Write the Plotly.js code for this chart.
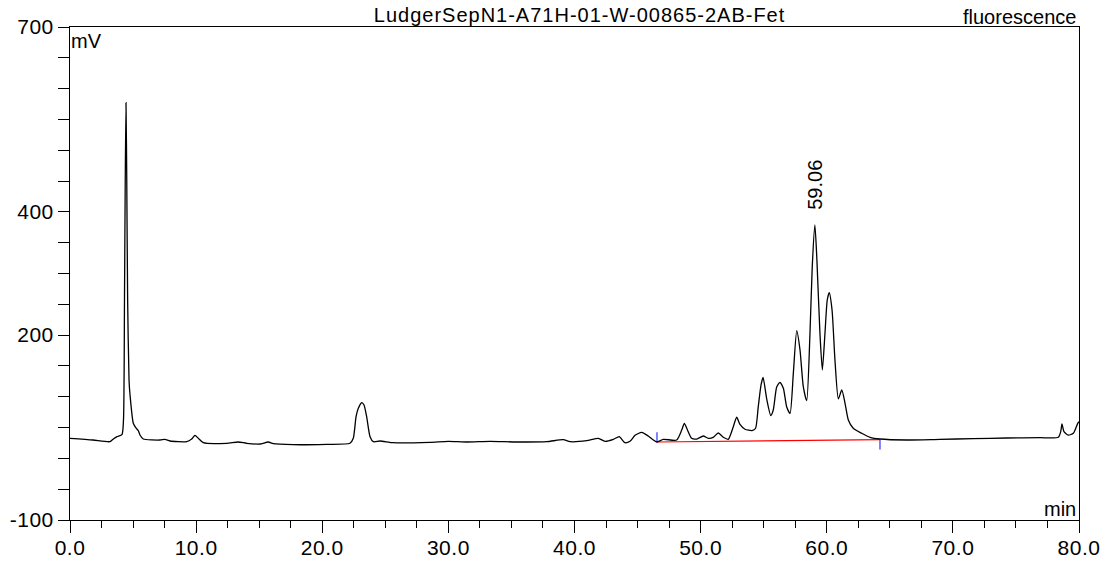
<!DOCTYPE html>
<html>
<head>
<meta charset="utf-8">
<script src="https://cdn.plot.ly/plotly-3.0.1.min.js"></script>
<style>
  html, body { margin: 0; padding: 0; background: #fff; }
  #chart { width: 1104px; height: 561px; }
  #chart .gtitle { letter-spacing: 1px; }
  #chart .xtick text, #chart .ytick text { letter-spacing: 0.5px; }
</style>
</head>
<body>
<div id="chart"></div>
<script>
// Retention time (min) and detector signal (mV)
const timeMin = [
  0.00, 1.82, 3.17, 3.41, 3.73, 4.12, 4.24, 4.32, 4.38, 4.44, 4.50, 4.57, 4.68, 4.76, 5.02, 5.23, 5.42, 5.55, 5.81,
  7.14, 7.53, 7.93, 9.25, 9.65, 9.91, 10.17, 10.57, 12.42, 13.34, 14.01, 15.06, 15.72, 16.12, 17.70, 20.35,
  22.20, 22.46, 22.68, 22.86, 23.13, 23.31, 23.52, 23.79, 24.05, 24.58, 25.63,
  28.54, 29.99, 31.45, 33.30, 35.42, 37.80, 39.11, 39.64, 40.97, 41.89, 42.42, 43.08, 43.55, 44.00, 44.40,
  44.80, 45.33, 45.85, 46.52, 47.04, 48.10, 48.50, 48.71, 48.94, 49.29, 49.69, 50.21, 50.61, 51.00, 51.40,
  51.80, 52.19, 52.59, 52.86, 53.12, 53.52, 54.07, 54.35, 54.57, 54.79, 54.95, 55.24, 55.56, 55.76, 56.03,
  56.29, 56.56, 56.82, 57.09, 57.35, 57.62, 57.88, 58.14, 58.41, 58.67, 58.85, 59.06, 59.22, 59.46, 59.65,
  59.86, 60.04, 60.20, 60.42, 60.65, 60.92, 61.19, 61.45, 61.71, 62.10, 62.77, 63.43, 64.22, 66.34, 68.98,
  71.62, 74.27, 76.91, 78.36, 78.55, 78.65, 78.81, 79.15, 79.55, 79.90, 80.00
];
const signalMV = [
  32.6, 29.8, 27.1, 30.9, 35.2, 38.7, 62.3, 257.0, 451.7, 577.2, 451.7, 257.0, 127.2, 102.8, 56.9, 49.3, 44.9, 37.9, 31.4,
  29.8, 30.9, 28.2, 27.1, 31.4, 37.4, 32.6, 25.4, 24.5, 26.6, 24.5, 23.3, 26.6, 23.8, 22.2, 22.8,
  24.5, 32.6, 67.6, 81.2, 90.3, 86.6, 67.6, 35.2, 27.1, 28.2, 25.4,
  26.1, 27.7, 26.6, 27.7, 26.6, 27.1, 30.3, 27.1, 28.7, 32.6, 27.7, 30.9, 35.2, 25.4, 27.7,
  37.4, 42.3, 36.3, 26.6, 30.9, 29.8, 46.0, 56.9, 46.9, 32.6, 31.4, 36.3, 32.6, 34.2, 41.2,
  34.2, 30.9, 51.4, 66.7, 55.0, 47.2, 45.2, 48.5, 83.9, 119.1, 131.2, 96.4, 69.6, 78.5, 115.8,
  123.4, 113.7, 83.9, 73.1, 138.0, 207.2, 175.9, 116.3, 93.6, 203.0, 311.0, 378.7, 321.9, 203.0, 143.4,
  203.0, 257.0, 268.8, 240.8, 159.6, 96.4, 111.0, 89.4, 62.3, 48.8, 40.7, 34.2, 31.4, 29.8, 30.9,
  31.9, 33.1, 33.6, 34.2, 43.3, 55.8, 43.3, 37.9, 40.7, 56.9, 59.5
];

// Integration baseline and its start / end markers
const baseTime = [46.54, 64.22];
const baseSignal = [26.6, 30.5];
const startMarkTime = [46.54, 46.54];
const startMarkSignal = [42.3, 26.1];
const endMarkTime = [64.22, 64.22];
const endMarkSignal = [30.5, 14.3];

// Labelled peak
const peakLabelTime = [59.06];
const peakLabelSignal = [400];
const peakLabelText = ['59.06'];

// Tick labels
const xTickVals = [0, 10, 20, 30, 40, 50, 60, 70, 80];
const xTickText = ['0.0', '10.0', '20.0', '30.0', '40.0', '50.0', '60.0', '70.0', '80.0'];
const yTickVals = [-100, 200, 400, 700];
const yTickText = ['-100', '200', '400', '700'];

const chartTitle = 'LudgerSepN1-A71H-01-W-00865-2AB-Fet';
const detectorLabel = 'fluorescence';
const yUnit = 'mV';
const xUnit = 'min';

const FONT = 'Liberation Sans, Arial, sans-serif';

const traces = [
  {
    x: baseTime, y: baseSignal, type: 'scatter', mode: 'lines',
    line: { color: '#ff0000', width: 1.2 }, hoverinfo: 'skip', showlegend: false
  },
  {
    x: startMarkTime, y: startMarkSignal, type: 'scatter', mode: 'lines',
    line: { color: '#5a5aff', width: 1.5 }, hoverinfo: 'skip', showlegend: false
  },
  {
    x: endMarkTime, y: endMarkSignal, type: 'scatter', mode: 'lines',
    line: { color: '#5a5aff', width: 1.5 }, hoverinfo: 'skip', showlegend: false
  },
  {
    x: timeMin, y: signalMV, type: 'scatter', mode: 'lines',
    line: { color: '#000000', width: 1.3, shape: 'spline', smoothing: 0.6 },
    showlegend: false
  }
];

const annotations = [
  {
    text: detectorLabel, xref: 'paper', yref: 'paper', x: 1, y: 1,
    xanchor: 'right', yanchor: 'bottom', xshift: -1, yshift: -3, showarrow: false,
    font: { family: FONT, size: 20, color: '#000' }
  },
  {
    text: yUnit, xref: 'paper', yref: 'paper', x: 0, y: 1,
    xanchor: 'left', yanchor: 'top', xshift: -1, yshift: -1, showarrow: false,
    font: { family: FONT, size: 20, color: '#000' }
  },
  {
    text: xUnit, xref: 'paper', yref: 'paper', x: 1, y: 0,
    xanchor: 'right', yanchor: 'bottom', xshift: -1, yshift: -2, showarrow: false,
    font: { family: FONT, size: 20, color: '#000' }
  }
];
peakLabelText.forEach((t, i) => {
  annotations.push({
    text: t, x: peakLabelTime[i], y: peakLabelSignal[i], xref: 'x', yref: 'y',
    textangle: -90, xanchor: 'center', yanchor: 'bottom', showarrow: false,
    font: { family: FONT, size: 20, color: '#000' }
  });
});

const axisCommon = {
  showgrid: false, zeroline: false, showline: true, mirror: true,
  linecolor: '#000', linewidth: 1, ticks: 'outside', tickcolor: '#000', tickwidth: 1,
  tickfont: { family: FONT, size: 21, color: '#000' }, fixedrange: true
};

const layout = {
  width: 1104, height: 561,
  margin: { l: 70, r: 25, t: 27, b: 41, pad: 0 },
  paper_bgcolor: '#fff', plot_bgcolor: '#fff',
  title: {
    text: chartTitle, xref: 'paper', x: 0.505, xanchor: 'center',
    yref: 'container', y: 1 - 15 / 561, yanchor: 'middle',
    font: { family: FONT, size: 20, color: '#000' }
  },
  xaxis: Object.assign({}, axisCommon, {
    range: [0, 80], tickmode: 'array', tickvals: xTickVals, ticktext: xTickText,
    ticklen: 12, ticklabelstandoff: -3,
    minor: { tick0: 0, dtick: 2.5, ticks: 'outside', ticklen: 7, tickcolor: '#000', tickwidth: 1, showgrid: false }
  }),
  yaxis: Object.assign({}, axisCommon, {
    range: [-100, 700], tickmode: 'array', tickvals: yTickVals, ticktext: yTickText,
    ticklen: 11,
    minor: { tick0: 0, dtick: 50, ticks: 'outside', ticklen: 11, tickcolor: '#000', tickwidth: 1, showgrid: false }
  }),
  annotations: annotations,
  showlegend: false
};

Plotly.newPlot('chart', traces, layout, { staticPlot: true, displayModeBar: false });
</script>
</body>
</html>
